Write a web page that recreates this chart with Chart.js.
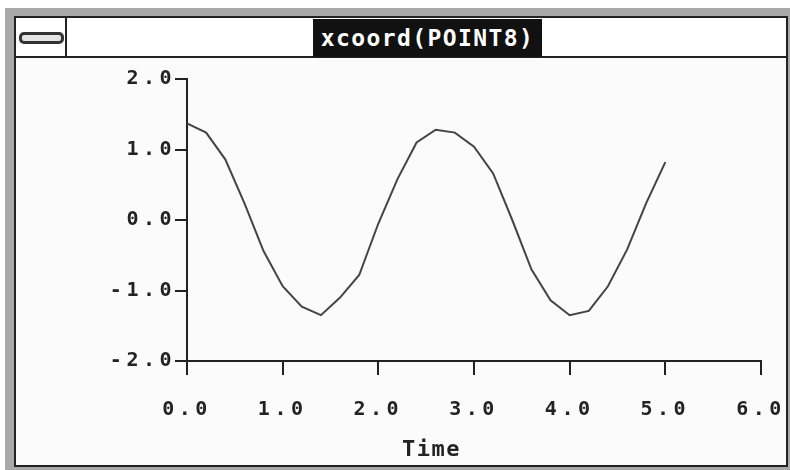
<!DOCTYPE html>
<html>
<head>
<meta charset="utf-8">
<script src="https://cdn.jsdelivr.net/npm/chart.js@4.4.1/dist/chart.umd.min.js"></script>
<style>
    html, body { margin: 0; padding: 0; background: #fff; }
    #page { position: relative; width: 790px; height: 470px; overflow: hidden; }
    #frame { position: absolute; left: 5px; top: 8px; width: 785px; height: 462px; background: #a9a9a9; }
    #win { position: absolute; left: 14px; top: 16px; width: 770px; height: 447px;
           border: 2px solid #222; background: #fbfbfb; }
    #titlebar { position: absolute; left: 0; top: 0; width: 770px; height: 38px;
                border-bottom: 2px solid #222; background: #fff; }
    #sysmenu { position: absolute; left: 0; top: 0; width: 49px; height: 38px; border-right: 2px solid #222; }
    #sysmenu div { position: absolute; left: 3px; top: 14px; width: 39px; height: 6px;
                   border: 3px solid #333; border-radius: 5px; background: #e4e4e4; }
    #caption { position: absolute; left: 297px; top: 1px; width: 229px; height: 38px; background: #111;
               color: #fff; font: bold 23px "DejaVu Sans Mono", monospace; letter-spacing: 1.4px;
               line-height: 38px; text-align: center; }
    #chart { position: absolute; left: 0; top: 0; }
    #xtitle { position: absolute; left: 402px; top: 436px; color: #222;
              font: bold 22px "DejaVu Sans Mono", monospace; letter-spacing: 1.5px; }
</style>
</head>
<body>
<div id="page">
    <div id="frame"></div>
    <div id="win">
        <div id="titlebar">
            <div id="sysmenu"><div></div></div>
            <div id="caption">xcoord(POINT8)</div>
        </div>
    </div>
    <canvas id="chart" width="790" height="470"></canvas>
    <div id="xtitle">Time</div>
</div>
<script>
    // time steps and xcoord values
    const times = [0.0, 0.2, 0.4, 0.6, 0.8, 1.0, 1.2, 1.4, 1.6, 1.8, 2.0, 2.2, 2.4,
                   2.6, 2.8, 3.0, 3.2, 3.4, 3.6, 3.8, 4.0, 4.2, 4.4, 4.6, 4.8, 5.0];
    const xcoord = [1.37, 1.24, 0.86, 0.24, -0.44, -0.94, -1.23, -1.35, -1.10, -0.78, -0.05, 0.58, 1.10,
                    1.28, 1.24, 1.04, 0.66, 0.00, -0.70, -1.14, -1.35, -1.29, -0.94, -0.42, 0.24, 0.82];
    const xTicks = [0, 1, 2, 3, 4, 5, 6];
    const yTicks = [-2, -1, 0, 1, 2];

    const points = times.map((t, i) => ({ x: t, y: xcoord[i] }));

    const spacing = {
        id: 'spacing',
        beforeUpdate(chart) { chart.ctx.letterSpacing = '4.5px'; },
        beforeDraw(chart) { chart.ctx.letterSpacing = '4.5px'; }
    };

    const tickFont = { family: '"DejaVu Sans Mono", monospace', size: 20, weight: 'bold' };

    new Chart(document.getElementById('chart').getContext('2d'), {
        type: 'line',
        data: {
            datasets: [{
                data: points,
                borderColor: '#444',
                borderWidth: 2,
                pointRadius: 0,
                tension: 0
            }]
        },
        options: {
            responsive: false,
            animation: false,
            layout: { padding: { left: 0, top: 79, right: 29, bottom: 0 } },
            plugins: { legend: { display: false }, tooltip: { enabled: false } },
            scales: {
                x: {
                    type: 'linear',
                    min: 0, max: 6,
                    afterFit(scale) {
                        scale.height = 109;
                        scale.paddingLeft = 0;
                        scale.paddingRight = 0;
                    },
                    afterBuildTicks(scale) { scale.ticks = xTicks.map(v => ({ value: v })); },
                    border: { color: '#222', width: 2 },
                    grid: { drawOnChartArea: false, color: '#222', lineWidth: 2, tickLength: 14 },
                    ticks: {
                        color: '#222', font: tickFont, padding: 23, maxRotation: 0,
                        callback: v => v.toFixed(1)
                    }
                },
                y: {
                    min: -2, max: 2,
                    afterFit(scale) {
                        scale.width = 187;
                        scale.paddingTop = 0;
                        scale.paddingBottom = 0;
                    },
                    afterBuildTicks(scale) { scale.ticks = yTicks.map(v => ({ value: v })); },
                    border: { color: '#222', width: 2 },
                    grid: { drawOnChartArea: false, color: '#222', lineWidth: 2, tickLength: 12 },
                    ticks: {
                        color: '#222', font: tickFont, padding: -1,
                        callback: v => v.toFixed(1)
                    }
                }
            }
        },
        plugins: [spacing]
    });
</script>
</body>
</html>
